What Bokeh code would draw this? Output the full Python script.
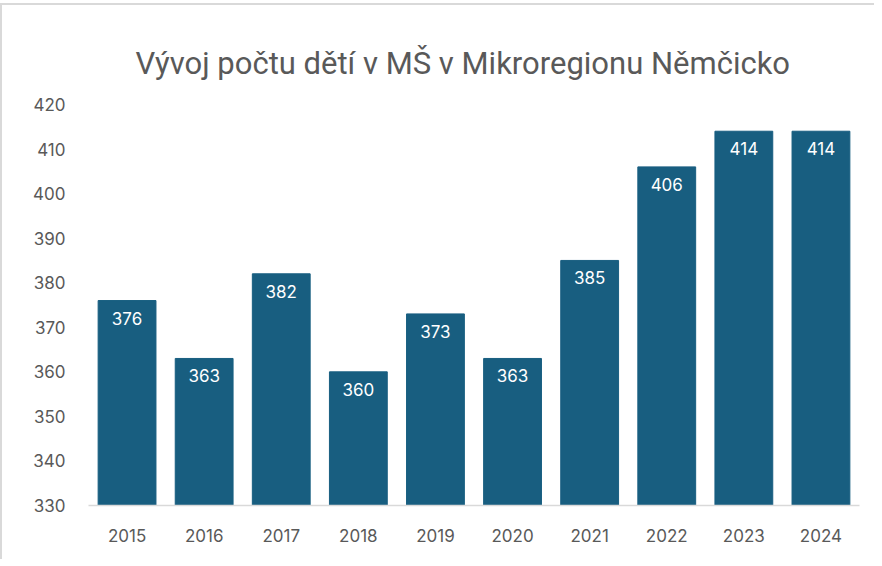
from bokeh.plotting import figure
from bokeh.models import ColumnDataSource, FactorRange, Range1d, LabelSet, FixedTicker
from bokeh.core.properties import value
from bokeh.embed import file_html
from bokeh.resources import INLINE

years = ["2015", "2016", "2017", "2018", "2019", "2020", "2021", "2022", "2023", "2024"]
counts = [376, 363, 382, 360, 373, 363, 385, 406, 414, 414]
y_ticks = [330, 340, 350, 360, 370, 380, 390, 400, 410, 420]

src = ColumnDataSource(dict(year=years, count=counts, label=[str(c) for c in counts]))

p = figure(width=874, height=556, x_range=FactorRange(*years), y_range=Range1d(330, 420),
           output_backend="svg", toolbar_location=None,
           min_border_left=86, min_border_right=17, min_border_top=99, min_border_bottom=56)
p.styles = {"border-top": "2px solid #d9d9d9", "border-left": "2px solid #d9d9d9", "margin-top": "3px"}

p.title.text = "Vývoj počtu dětí v MŠ v Mikroregionu Němčicko"
p.title.text_font = "Roboto"
p.title.text_font_size = "31px"
p.title.text_font_style = "normal"
p.title.text_color = "#595959"
p.title.align = "left"
p.title.offset = 47
p.title.standoff = 45

p.vbar(x="year", top="count", bottom=330, width=0.75, source=src, color="#185e80")

labels = LabelSet(x="year", y="count", text="label", source=src, text_align="center",
                  text_baseline="top", y_offset=-11, text_color="white",
                  text_font_size=value("17px"), text_font=value("Inter"))
p.add_layout(labels)

p.outline_line_color = None
p.grid.grid_line_color = None
p.background_fill_color = "white"
p.border_fill_color = "white"

p.yaxis.ticker = FixedTicker(ticks=y_ticks)
p.yaxis.axis_line_color = None
p.yaxis.major_tick_line_color = None
p.yaxis.minor_tick_line_color = None
p.yaxis.major_label_standoff = 17
p.yaxis.major_label_text_font = "Inter"
p.yaxis.major_label_text_font_size = "17px"
p.yaxis.major_label_text_color = "#595959"

p.xaxis.axis_line_color = "#d9d9d9"
p.xaxis.axis_line_width = 1.5
p.xaxis.major_tick_line_color = None
p.xaxis.minor_tick_line_color = None
p.xaxis.major_label_standoff = 17
p.xaxis.major_label_text_font = "Inter"
p.xaxis.major_label_text_font_size = "17px"
p.xaxis.major_label_text_color = "#595959"
p.x_range.range_padding = 0
p.x_range.group_padding = 0

open("out.html", "w").write(file_html(p, INLINE))
